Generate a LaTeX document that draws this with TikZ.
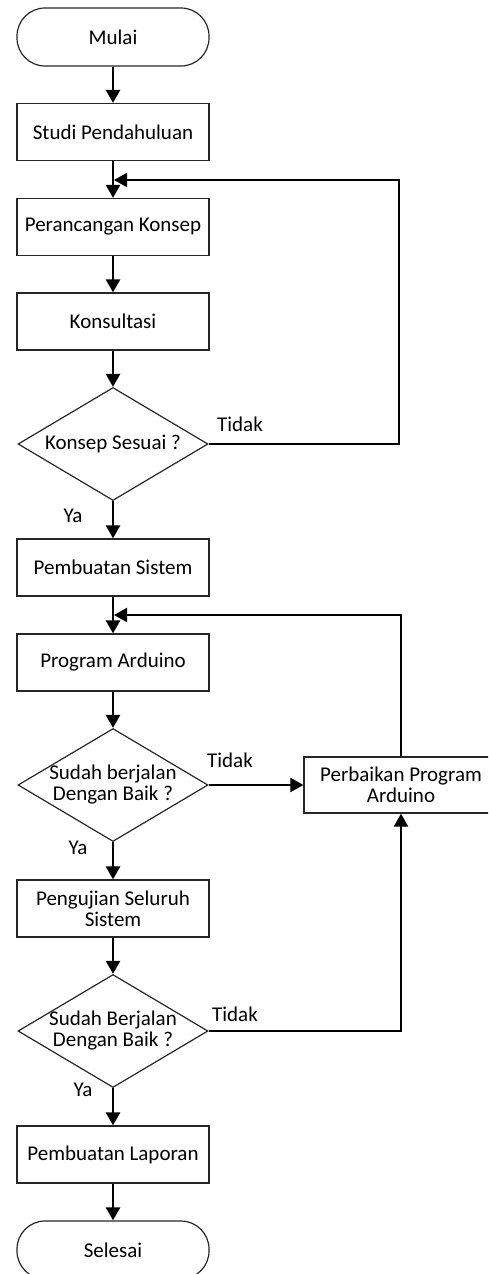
\documentclass[tikz,border=0pt]{standalone}
\usepackage{fontspec}
\setmainfont{Carlito}
\usepackage{tikz}
\usetikzlibrary{arrows.meta, shapes.geometric}

\begin{document}
\begin{tikzpicture}[x=1pt, y=-1pt,
  font=\fontsize{21}{21}\selectfont,
  proses/.style={draw=black!85, line width=1.2pt, rectangle, minimum width=192pt,
    minimum height=57pt, inner sep=0pt, align=center},
  terminal/.style={proses, rounded corners=28pt, minimum height=58pt},
  keputusan/.style={draw=black!85, line width=1.2pt, diamond, aspect=1.68,
    minimum width=190pt, minimum height=113pt, inner sep=-6pt, align=center},
  ujung/.style={-{Triangle[width=14pt,length=13pt]}},
  panah/.style={ujung, line width=2.6pt},
  balik/.style={ujung, line width=2pt}]
\useasboundingbox (0,0) rectangle (488,1274);
\clip (0,0) rectangle (488,1274);
% alur utama
\node[terminal] (mulai) at (113,37) {Mulai};
\node[proses] (studi) at (113,132) {Studi Pendahuluan};
\node[proses] (rancang) at (113,227) {Perancangan Konsep};
\node[proses] (konsul) at (113,321.5) {Konsultasi};
\node[keputusan] (sesuai) at (113,444) {Konsep Sesuai ?};
\node[proses] (sistem) at (113,567.5) {Pembuatan Sistem};
\node[proses] (program) at (113,662.5) {Program Arduino};
\node[keputusan] (cek1) at (113,785) {Sudah berjalan\\Dengan Baik ?};
\node[proses] (uji) at (113,908.5) {Pengujian Seluruh\\Sistem};
\node[keputusan] (cek2) at (113,1031) {Sudah Berjalan\\Dengan Baik ?};
\node[proses] (laporan) at (113,1154.5) {Pembuatan Laporan};
\node[terminal] (selesai) at (113,1250) {Selesai};
\node[proses, minimum width=194pt, minimum height=56pt] (perbaikan) at (401,785) {Perbaikan Program\\Arduino};
% label
\node (tidak1) at (240,424) {Tidak};
\node (ya1) at (73,516) {Ya};
\node (tidak2) at (230,760) {Tidak};
\node (ya2) at (78,848) {Ya};
\node (tidak3) at (235,1014) {Tidak};
\node (ya3) at (83,1090) {Ya};
\coordinate (gabung1) at (113,180);
\coordinate (pojok1) at (399,180);
\coordinate (gabung2) at (113,615);
% panah
\draw[panah] (mulai) -- (studi);
\draw[panah] (studi) -- (rancang);
\draw[panah] (rancang) -- (konsul);
\draw[panah] (konsul) -- (sesuai);
\draw[panah] (sesuai) -- (sistem);
\draw[panah] (sistem) -- (program);
\draw[panah] (program) -- (cek1);
\draw[panah] (cek1) -- (uji);
\draw[panah] (uji) -- (cek2);
\draw[panah] (cek2) -- (laporan);
\draw[panah] (laporan) -- (selesai);
\draw[balik, shorten >=1pt] (sesuai.east) -| (pojok1) -- (gabung1);
\draw[balik] (cek1.east) -- (perbaikan.west);
\draw[balik, shorten >=1pt] (perbaikan.north) |- (gabung2);
\draw[balik] (cek2.east) -| (perbaikan.south);
\end{tikzpicture}
\end{document}
